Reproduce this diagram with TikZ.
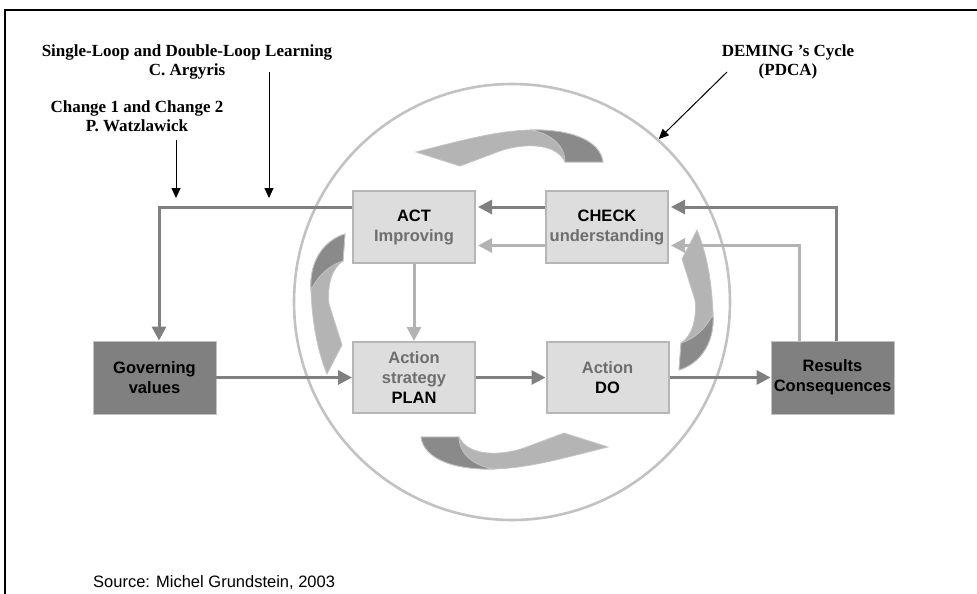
\documentclass[tikz,border=0pt]{standalone}
\usepackage{fontspec}
\setmainfont{Liberation Serif}
\newfontfamily\arialf{Liberation Sans}
\usetikzlibrary{arrows.meta,calc}
\definecolor{boxfill}{HTML}{DDDDDD}
\definecolor{boxline}{HTML}{B6B6B6}
\definecolor{darkfill}{HTML}{808080}
\definecolor{darkconn}{HTML}{808080}
\definecolor{lightconn}{HTML}{B3B3B3}
\definecolor{ringcol}{HTML}{C2C2C2}
\definecolor{txtgray}{HTML}{6E6E6E}
\definecolor{swooshlight}{HTML}{B4B4B4}
\definecolor{swooshdark}{HTML}{8A8A8A}
\definecolor{swooshedge}{HTML}{C4C4C4}
\begin{document}
\begin{tikzpicture}[x=1pt,y=-1pt,
  lightbox/.style={draw=boxline, line width=2pt, fill=boxfill,
    minimum width=122pt, minimum height=72pt, inner sep=0pt, align=center,
    font=\arialf\bfseries\fontsize{16.5}{20}\selectfont, text=txtgray},
  darkbox/.style={draw=ringcol, line width=0.8pt, fill=darkfill,
    minimum width=123pt, minimum height=73pt, inner sep=0pt, align=center,
    font=\arialf\bfseries\fontsize{16.5}{20}\selectfont, text=black},
  darkarrow/.style={draw=darkconn, line width=3pt,
    -{Triangle[length=14pt,width=14pt]}},
  lightarrow/.style={draw=lightconn, line width=3pt,
    -{Triangle[length=14pt,width=14pt]}},
  pointer/.style={draw=black, line width=1pt,
    -{Triangle[length=10pt,width=9pt]}},
  label/.style={align=center, inner sep=0pt,
    font=\bfseries\fontsize{17}{19.5}\selectfont},
  swoosh/.style={fill=swooshlight, draw=swooshedge, line width=0.8pt},
  swooshback/.style={fill=swooshdark, draw=swooshedge, line width=0.8pt}
]
\useasboundingbox (0,0) rectangle (977,594);

% frame edges
\draw[line width=1.6pt] (5,594) -- (5,10) -- (977,10);

% PDCA ring
\node[draw=ringcol, line width=2.6pt, circle, minimum size=436pt, inner sep=0pt] (cyc) at (512,302) {};

% cycle swooshes: top, left, bottom, right
\path[swoosh] (565,162) -- (603,162)
  .. controls (600,140) and (570,129) .. (530,130)
  .. controls (495,131) and (460,141) .. (416,152)
  -- (460,166) -- (500,151)
  .. controls (520,144) and (555,141) .. (565,162) -- cycle;
\path[swooshback] (603,162)
  .. controls (600,140) and (570,129) .. (530,130)
  .. controls (550,133) and (565,145) .. (565,162) -- cycle;

\path[swoosh] (343,261) -- (345,234)
  .. controls (325,240) and (309,260) .. (311,290)
  .. controls (312,320) and (317,350) .. (327,374)
  -- (342,345) -- (329,304)
  .. controls (327,285) and (332,268) .. (343,261) -- cycle;
\path[swooshback] (345,234)
  .. controls (325,240) and (309,260) .. (311,290)
  .. controls (318,275) and (330,265) .. (343,261) -- cycle;

\path[swoosh] (459,437) -- (421,437)
  .. controls (424,459) and (454,470) .. (494,469)
  .. controls (529,468) and (564,458) .. (608,447)
  -- (564,433) -- (524,448)
  .. controls (504,455) and (469,458) .. (459,437) -- cycle;
\path[swooshback] (421,437)
  .. controls (424,459) and (454,470) .. (494,469)
  .. controls (474,466) and (459,454) .. (459,437) -- cycle;

\path[swoosh] (681,343) -- (679,370)
  .. controls (699,364) and (715,344) .. (713,314)
  .. controls (712,284) and (707,254) .. (697,230)
  -- (682,259) -- (695,300)
  .. controls (697,319) and (692,336) .. (681,343) -- cycle;
\path[swooshback] (679,370)
  .. controls (699,364) and (715,344) .. (713,314)
  .. controls (706,329) and (694,339) .. (681,343) -- cycle;

% boxes
\node[lightbox] (act) at (414,227) {{\color{black}ACT}\\Improving};
\node[lightbox] (check) at (607,227) {{\color{black}CHECK}\\understanding};
\node[lightbox, minimum height=71pt] (plan) at (414,377.5) {Action\\strategy\\{\color{black}PLAN}};
\node[lightbox, minimum height=71pt] (do) at (607.5,377.5) {Action\\{\color{black}DO}};
\node[darkbox] (gov) at (154.5,377.5) {Governing\\values};
\node[darkbox] (res) at (832.5,377.5) {Results\\Consequences};

% loops between the boxes
\draw[darkarrow] ([yshift=20pt]act.west) -| ([xshift=4.5pt]gov.north);
\draw[darkarrow] ([yshift=20pt]check.west) -- ([yshift=20pt,xshift=2pt]act.east);
\draw[lightarrow] ([yshift=-18.5pt]check.west) -- ([yshift=-18.5pt,xshift=2pt]act.east);
\draw[darkarrow] ([xshift=3.5pt]res.north) |- ([yshift=20pt,xshift=2pt]check.east);
\draw[lightarrow] ([xshift=-33.5pt]res.north) |- ([yshift=-18.5pt,xshift=2pt]check.east);
\draw[lightarrow] (act.south) -- (plan.north);
\draw[darkarrow] (gov.east) -- (plan.west);
\draw[darkarrow] (plan.east) -- (do.west);
\draw[darkarrow] (do.east) -- (res.west);

% theory labels and their pointers
\node[label] (argyris) at (187,62) {Single-Loop and Double-Loop Learning\\C. Argyris};
\node[label] (watz) at (137,116) {Change 1 and Change 2\\P. Watzlawick};
\node[label] (deming) at (788,62) {DEMING 's Cycle\\(PDCA)};
\coordinate (argtail) at (269,72);
\coordinate (argtip) at (269,198);
\coordinate (watztail) at (176,140);
\coordinate (watztip) at (176,198);
\coordinate (demtail) at (727,72);
\draw[pointer] (argtail) -- (argtip);
\draw[pointer] (watztail) -- (watztip);
\draw[pointer] (demtail) -- (cyc.48);

% source line
\node[anchor=west, inner sep=0pt, font=\arialf\fontsize{16.5}{19}\selectfont] (src) at (93,583) {Source: Michel Grundstein, 2003};
\end{tikzpicture}
\end{document}
